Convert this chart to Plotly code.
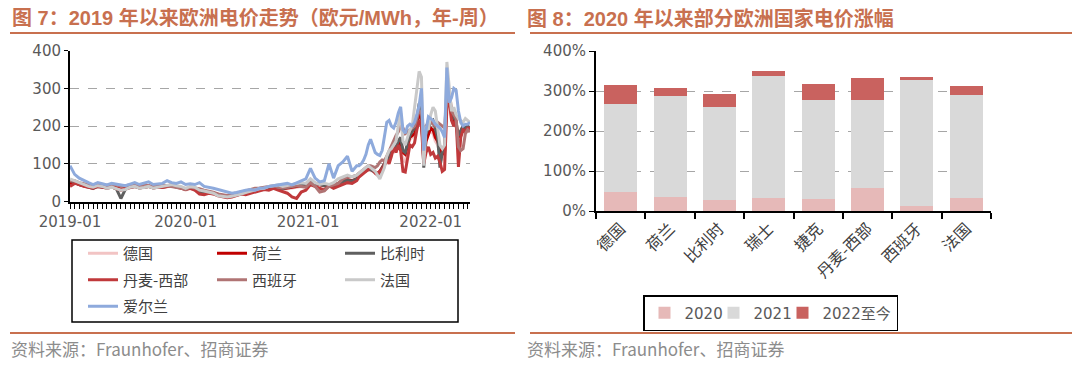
import pandas as pd
import plotly.graph_objects as go

# ---------------- data: weekly electricity prices (EUR/MWh) ----------------
# biweekly points 2019-01-07 .. 2021-05-24, then weekly 2021-05-31 .. 2022-05-02
dates_a = pd.date_range("2019-01-07", periods=63, freq="14D")
dates_b = pd.date_range("2021-05-31", periods=49, freq="7D")
dates = list(dates_a) + list(dates_b)

de = [50, 52, 44, 40, 36, 34, 40, 38, 36, 38, 35, 30, 32, 38, 40, 36, 38, 40, 36, 38, 37, 40, 42, 38, 36, 30,
      34, 30, 22, 20, 24, 20, 16, 14, 12, 15, 17, 20, 22, 26, 28, 30, 32, 35, 36, 34, 32, 34, 36, 38, 40, 38,
      50, 46, 44, 40, 43, 40, 46, 50, 55, 52, 58,
      70, 72, 78, 80, 83, 82, 80, 75, 72, 78, 88, 98, 108, 118, 128, 130, 135, 150, 145, 110,
      105, 140, 165, 170, 175, 195, 225, 230, 105, 170, 200, 185, 180, 160, 150, 130, 110, 120, 280, 270,
      220, 210, 200, 150, 180, 195, 185, 190, 185]
nl = [48, 50, 45, 42, 38, 36, 42, 40, 38, 40, 37, 33, 35, 40, 42, 38, 40, 42, 38, 40, 39, 42, 44, 40, 38, 34,
      37, 34, 26, 24, 26, 22, 18, 16, 14, 16, 18, 22, 24, 27, 30, 32, 34, 36, 38, 36, 34, 36, 38, 40, 42, 40,
      52, 48, 45, 42, 45, 42, 48, 52, 58, 55, 60,
      70, 72, 78, 82, 85, 85, 82, 78, 75, 80, 90, 100, 110, 120, 130, 135, 140, 150, 160, 130,
      125, 150, 170, 175, 180, 200, 235, 220, 110, 160, 180, 195, 190, 170, 160, 140, 125, 130, 290, 280,
      230, 220, 200, 170, 185, 200, 190, 195, 190]
be = [55, 52, 45, 42, 38, 35, 40, 38, 36, 38, 34, 8, 33, 38, 40, 36, 38, 40, 36, 39, 38, 41, 43, 40, 37, 32,
      36, 32, 24, 22, 25, 21, 16, 14, 12, 14, 16, 20, 23, 27, 30, 32, 34, 37, 40, 36, 34, 37, 40, 42, 45, 42,
      55, 48, 45, 42, 44, 42, 48, 52, 57, 54, 60,
      72, 75, 80, 84, 86, 85, 82, 77, 72, 78, 88, 100, 112, 122, 132, 138, 145, 160, 170, 135,
      130, 155, 175, 185, 195, 215, 260, 250, 90, 180, 195, 210, 215, 190, 170, 90, 130, 135, 310, 290,
      235, 225, 210, 175, 190, 200, 195, 200, 195]
dk_w = [40, 48, 45, 40, 38, 35, 40, 38, 36, 38, 35, 30, 34, 38, 40, 36, 38, 40, 36, 38, 37, 40, 42, 38, 36, 32,
        35, 30, 20, 18, 22, 20, 15, 12, 10, 12, 15, 20, 18, 22, 25, 30, 32, 30, 35, 30, 25, 22, 12, 8, 25, 30,
        45, 40, 35, 30, 42, 35, 40, 45, 50, 48, 55,
        65, 70, 75, 80, 85, 90, 85, 75, 70, 80, 85, 95, 110, 100, 120, 145, 130, 150, 135, 80,
        78, 110, 150, 145, 155, 190, 215, 200, 100, 130, 145, 125, 130, 115, 120, 105, 80, 85, 250, 270,
        215, 200, 215, 92, 170, 190, 185, 195, 195]
es = [55, 55, 50, 47, 45, 42, 45, 44, 43, 45, 44, 40, 42, 44, 46, 42, 44, 42, 40, 42, 43, 42, 40, 38, 35, 32,
      38, 36, 34, 30, 28, 25, 20, 18, 16, 20, 22, 25, 28, 32, 35, 36, 38, 40, 42, 38, 36, 38, 40, 42, 40, 38,
      50, 40, 25, 28, 40, 45, 48, 60, 65, 66, 70,
      75, 80, 85, 90, 95, 95, 92, 90, 95, 105, 110, 108, 120, 135, 150, 160, 175, 185, 200, 195,
      180, 185, 190, 195, 200, 220, 240, 235, 180, 200, 210, 215, 205, 200, 210, 205, 200, 195, 280, 300,
      240, 230, 220, 145, 135, 140, 180, 190, 185]
fr = [60, 55, 50, 45, 40, 38, 42, 40, 35, 38, 35, 30, 32, 38, 40, 35, 37, 40, 35, 38, 40, 42, 45, 42, 40, 35,
      40, 38, 30, 28, 25, 22, 15, 14, 12, 14, 16, 20, 24, 28, 32, 34, 35, 40, 42, 44, 40, 42, 45, 48, 50, 48,
      60, 50, 45, 48, 45, 50, 60, 65, 70, 65, 70,
      75, 80, 85, 90, 95, 90, 85, 80, 70, 60, 75, 90, 120, 135, 140, 150, 160, 200, 235, 160,
      150, 170, 190, 200, 250, 300, 345, 330, 95, 200, 190, 230, 250, 240, 200, 150, 140, 150, 370, 300,
      240, 250, 230, 220, 215, 210, 220, 215, 210]
ie = [95, 72, 62, 55, 50, 45, 50, 47, 44, 48, 46, 44, 42, 46, 50, 45, 48, 52, 45, 46, 48, 55, 50, 48, 52, 45,
      47, 45, 50, 40, 38, 35, 32, 28, 25, 22, 24, 28, 30, 32, 30, 35, 36, 40, 42, 45, 45, 48, 44, 50, 55, 60,
      88, 62, 52, 55, 100, 62, 95, 105, 120, 80, 95,
      95, 100, 110, 125, 150, 165, 150, 130, 125, 122, 135, 170, 210, 215, 200, 195, 210, 235, 251, 190,
      181, 200, 205, 200, 210, 230, 255, 300, 135, 190, 225, 220, 215, 205, 200, 195, 185, 170, 355, 262,
      275, 300, 295, 240, 210, 200, 205, 205, 210]

line_names = ["德国", "荷兰", "比利时", "丹麦-西部", "西班牙", "法国", "爱尔兰"]
line_series = [de, nl, be, dk_w, es, fr, ie]
line_colors = ["#F2C4C4", "#C00000", "#5F5F5F", "#C0393B", "#B07474", "#C9C9C9", "#8EAADC"]
line_legends = ["legend", "legend2", "legend3", "legend", "legend2", "legend3", "legend"]

year_tick_vals = ["2019-01-07", "2019-12-23", "2020-12-28", "2022-01-03"]
year_tick_text = ["2019-01", "2020-01", "2021-01", "2022-01"]

# ---------------- data: price increase since 2020 (%) ----------------
countries = ["德国", "荷兰", "比利时", "瑞士", "捷克", "丹麦-西部", "西班牙", "法国"]
inc_2020 = [47, 35, 27, 33, 29, 57, 12, 32]
inc_2021 = [221, 252, 234, 304, 248, 221, 316, 258]
inc_2022 = [46, 21, 32, 14, 41, 54, 8, 23]
bar_names = ["2020", "2021", "2022至今"]
bar_colors = ["#E6B9B8", "#D9D9D9", "#C9625F"]
bar_legend_widths = [24, 24, None]

# ---------------- figure ----------------
W, H = 1080, 368
OFF = 8  # the page body adds an 8px margin; compensate so positions match the target pixels
def px(x):
    return (x - OFF) / W
def py(y):
    return 1 - (y - OFF) / H

fig = go.Figure()

for name, vals, col, lg in zip(line_names, line_series, line_colors, line_legends):
    fig.add_trace(go.Scatter(
        x=dates, y=vals, mode="lines", name=name,
        line=dict(color=col, width=3), legend=lg, legendgroup=name,
        xaxis="x", yaxis="y",
    ))

for name, vals, col, lw in zip(bar_names, [inc_2020, inc_2021, inc_2022], bar_colors, bar_legend_widths):
    fig.add_trace(go.Bar(
        x=countries, y=vals, name=name, marker=dict(color=col, line=dict(width=0)),
        legend="legend4", legendwidth=lw, xaxis="x2", yaxis="y2",
    ))

tick_font = dict(family="DejaVu Sans, Noto Sans CJK SC", size=15, color="#595959")
cjk_font = dict(family="Noto Sans CJK SC", size=15, color="#404040")
cat_font = dict(family="Noto Sans CJK SC", size=16, color="#404040")
title_color = "#C8704F"

fig.update_layout(
    width=W, height=H,
    margin=dict(l=0, r=0, t=0, b=0, autoexpand=False),
    paper_bgcolor="white", plot_bgcolor="white",
    barmode="stack", bargap=0.33,
    xaxis=dict(
        domain=[px(70), px(470)], anchor="y", type="date",
        range=[dates[0], dates[-1]],
        tickvals=year_tick_vals, ticktext=year_tick_text,
        ticks="outside", ticklen=5, tickcolor="black", tickwidth=1,
        minor=dict(ticks="outside", ticklen=5, tickcolor="black", tickwidth=1,
                   dtick=14 * 86400000, tick0="2019-01-07", showgrid=False),
        showline=True, linecolor="black", linewidth=2,
        showgrid=False, zeroline=False, tickfont=tick_font, automargin=False,
    ),
    yaxis=dict(
        domain=[py(201.5), py(50.7)], anchor="x",
        range=[0, 400], dtick=100,
        showgrid=True, gridcolor="#A6A6A6", griddash="dash", gridwidth=1,
        showline=True, linecolor="black", linewidth=2,
        ticks="outside", ticklen=4, tickcolor="black",
        zeroline=False, tickfont=tick_font, automargin=False,
    ),
    xaxis2=dict(
        domain=[px(596), px(991)], anchor="y2", type="category",
        ticks="outside", tickson="boundaries", ticklen=6, tickcolor="black", tickwidth=2,
        showline=True, linecolor="black", linewidth=2,
        tickangle=-45, tickfont=cat_font, showgrid=False, automargin=False,
    ),
    yaxis2=dict(
        domain=[py(211), py(51)], anchor="x2",
        range=[0, 400], dtick=100, ticksuffix="%",
        showgrid=True, gridcolor="#A6A6A6", griddash="dash", gridwidth=1,
        showline=True, linecolor="black", linewidth=2,
        ticks="outside", ticklen=5, tickcolor="black",
        zeroline=False, tickfont=tick_font, automargin=False,
    ),
    legend=dict(x=px(83), y=py(237), xanchor="left", yanchor="top",
                orientation="v", font=cjk_font, bgcolor="rgba(0,0,0,0)",
                tracegroupgap=4, itemwidth=30),
    legend2=dict(x=px(212), y=py(237), xanchor="left", yanchor="top",
                 orientation="v", font=cjk_font, bgcolor="rgba(0,0,0,0)",
                 tracegroupgap=4, itemwidth=30),
    legend3=dict(x=px(340), y=py(237), xanchor="left", yanchor="top",
                 orientation="v", font=cjk_font, bgcolor="rgba(0,0,0,0)",
                 tracegroupgap=4, itemwidth=30),
    legend4=dict(x=px(643), y=py(295), xanchor="left", yanchor="top",
                 orientation="h", font=tick_font, bgcolor="white", traceorder="normal",
                 bordercolor="black", borderwidth=1.5, itemwidth=30),
    showlegend=True,
)

# left legend frame
fig.add_shape(type="rect", xref="paper", yref="paper",
              x0=px(72), x1=px(458), y0=py(322), y1=py(240),
              line=dict(color="black", width=1.5), fillcolor="rgba(0,0,0,0)", layer="below")

# title rules and source rules
for x0, x1 in [(10, 515), (530, 1072)]:
    fig.add_shape(type="line", xref="paper", yref="paper",
                  x0=px(x0), x1=px(x1), y0=py(33), y1=py(33),
                  line=dict(color=title_color, width=2))
    fig.add_shape(type="line", xref="paper", yref="paper",
                  x0=px(x0), x1=px(x1), y0=py(333), y1=py(333),
                  line=dict(color=title_color, width=2))

title_font = dict(family="Liberation Sans, Noto Sans CJK SC", size=20, color=title_color)
fig.add_annotation(x=px(12), y=py(18), xref="paper", yref="paper", xanchor="left", yanchor="middle",
                   text="<b>图 7：2019 年以来欧洲电价走势（欧元/MWh，年-周）</b>",
                   showarrow=False, font=title_font, borderpad=0, borderwidth=0)
fig.add_annotation(x=px(527), y=py(18), xref="paper", yref="paper", xanchor="left", yanchor="middle",
                   text="<b>图 8：2020 年以来部分欧洲国家电价涨幅</b>",
                   showarrow=False, font=title_font, borderpad=0, borderwidth=0)

src_font = dict(family="Liberation Sans Narrow, Noto Sans CJK SC", size=17, color="#8C8C8C")
for x in (11, 527):
    fig.add_annotation(x=px(x), y=py(348), xref="paper", yref="paper", xanchor="left", yanchor="middle",
                       text="资料来源：Fraunhofer、招商证券", showarrow=False, font=src_font,
                       borderpad=0, borderwidth=0)

fig.write_html("out.html")
